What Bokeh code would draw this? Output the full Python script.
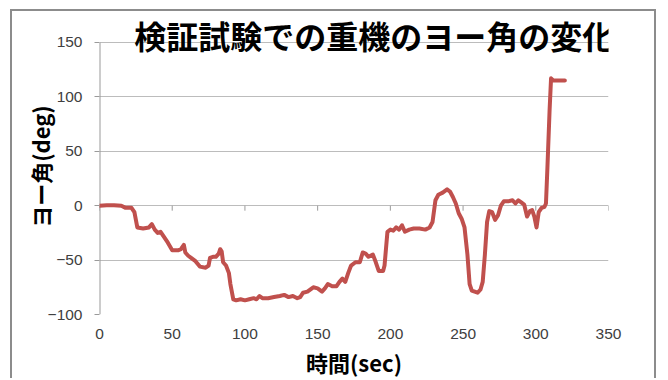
from bokeh.plotting import figure
from bokeh.models import Range1d, Label, FixedTicker
from bokeh.embed import file_html
from bokeh.resources import INLINE

# Yaw angle of the heavy machine during the verification test
time_s = [0, 5, 10, 15, 18, 22, 24, 26, 30, 34, 36, 38, 40, 42, 44, 47, 50, 54, 56, 58,
          59, 61, 63, 66, 69, 73, 75, 76, 78, 80, 82, 83, 84, 85, 87, 89, 90, 92, 94, 97,
          100, 103, 106, 108, 110, 112, 116, 120, 124, 127, 130, 133, 136, 138, 140, 143,
          147, 150, 153, 155, 157, 160, 163, 165, 167, 169, 171, 173, 176, 179, 181, 183,
          185, 188, 190, 192, 195, 196, 198, 200, 202, 204, 206, 208, 210, 213, 216, 220,
          224, 227, 229, 231, 233, 236, 239, 241, 243, 245, 247, 249, 251, 253, 254.5, 256,
          258, 260, 262, 263.5, 265, 266.5, 268, 270, 272, 274, 276, 278, 281, 284, 286,
          288, 290, 292, 294, 296, 297.5, 299, 300.5, 302, 304, 306, 307, 308, 309.5,
          310.5, 312, 316, 320]
yaw_deg = [0, 0.5, 0.5, 0, -2, -2, -6, -20, -21, -20, -17, -22, -25, -24, -28, -34, -41,
           -41, -40, -36, -43, -46, -48, -51, -56, -57, -55, -48, -47, -47, -44, -40, -42,
           -52, -55, -62, -72, -86, -87, -86, -87, -86, -85, -86, -83, -85, -85, -84, -83,
           -82, -84, -83, -85, -84, -80, -79, -75, -76, -79, -76, -72, -74, -74, -70, -67,
           -70, -62, -55, -52, -52, -43, -44, -47, -45, -52, -60, -60, -55, -24, -22, -23,
           -20, -22, -18, -24, -22, -21, -21, -22, -20, -15, 5, 10, 12, 15, 13, 8, 2, -7,
           -12, -20, -45, -72, -78, -79, -80, -77, -70, -45, -15, -5, -6, -13, -9, 0, 4, 4,
           5, 2, 5, 3, 1, -10, -5, -4, -10, -20, -6, -2, -1, 2, 35, 88, 117, 115, 115, 115]

x_ticks = [0, 50, 100, 150, 200, 250, 300, 350]
y_ticks = [-100, -50, 0, 50, 100, 150]

title_text = "検証試験での重機のヨー角の変化"
x_label = "時間(sec)"
y_label = "ヨー角(deg)"

GRID = "#bcbcbc"
AXIS = "#9a9a9a"
LABEL_FONT = "Liberation Sans"
CJK_FONT = "Noto Sans CJK JP"

# headroom above 150 leaves space for the title inside the plot frame
p = figure(width=646, height=369, output_backend="svg", toolbar_location=None,
           x_range=Range1d(0, 350), y_range=Range1d(-100, 172),
           min_border_left=87, min_border_right=50, min_border_top=7, min_border_bottom=64)
p.margin = (9, 0, 0, 10)
p.styles = {"border-left": "2px solid #8c8c8c", "border-top": "2px solid #8c8c8c",
            "border-right": "2px solid #8c8c8c"}
p.outline_line_color = None
p.background_fill_color = "white"
p.border_fill_color = "white"

# grid
p.xgrid.grid_line_color = None
p.ygrid.grid_line_color = GRID
p.ygrid.grid_line_width = 1
p.ygrid.ticker = FixedTicker(ticks=y_ticks)

# y axis (its line is drawn separately so it stops at the top tick)
ya = p.yaxis[0]
ya.ticker = FixedTicker(ticks=y_ticks)
ya.axis_line_color = None
ya.major_tick_line_color = AXIS
ya.major_tick_out = 5
ya.major_tick_in = 0
ya.minor_tick_line_color = None
ya.major_label_standoff = 12
ya.major_label_text_font = LABEL_FONT
ya.major_label_text_font_size = "15.5px"
ya.major_label_text_color = "#404040"
ya.axis_label = y_label
ya.axis_label_text_font = CJK_FONT
ya.axis_label_text_font_style = "bold"
ya.axis_label_text_font_size = "22px"
ya.axis_label_text_color = "#000000"
ya.axis_label_standoff = -11

p.segment(x0=[x_ticks[0]], y0=[y_ticks[0]], x1=[x_ticks[0]], y1=[y_ticks[-1]],
          line_color=AXIS, line_width=2)

# x axis: labels along the bottom, ticks drawn on the zero line
xa = p.xaxis[0]
xa.ticker = FixedTicker(ticks=x_ticks)
xa.axis_line_color = None
xa.major_tick_line_color = None
xa.minor_tick_line_color = None
xa.major_tick_out = 0
xa.major_tick_in = 0
xa.major_label_standoff = 14
xa.major_label_text_font = LABEL_FONT
xa.major_label_text_font_size = "15.5px"
xa.major_label_text_color = "#404040"
xa.axis_label = x_label
xa.axis_label_text_font = CJK_FONT
xa.axis_label_text_font_style = "bold"
xa.axis_label_text_font_size = "22px"
xa.axis_label_text_color = "#000000"
xa.axis_label_standoff = 4

tick_len = 4.6
p.segment(x0=x_ticks, y0=[0] * len(x_ticks), x1=x_ticks, y1=[-tick_len] * len(x_ticks),
          line_color=AXIS, line_width=1)

# yaw trace
p.line(time_s, yaw_deg, line_color="#C0504D", line_width=4, line_join="round",
       line_cap="round")

# chart title sits over the top gridline
p.add_layout(Label(x=189, y=156.5, text=title_text, text_align="center",
                   text_baseline="middle", text_font=CJK_FONT, text_font_style="bold",
                   text_font_size="32px", text_color="#000000"))

open("out.html", "w").write(file_html(p, INLINE))
